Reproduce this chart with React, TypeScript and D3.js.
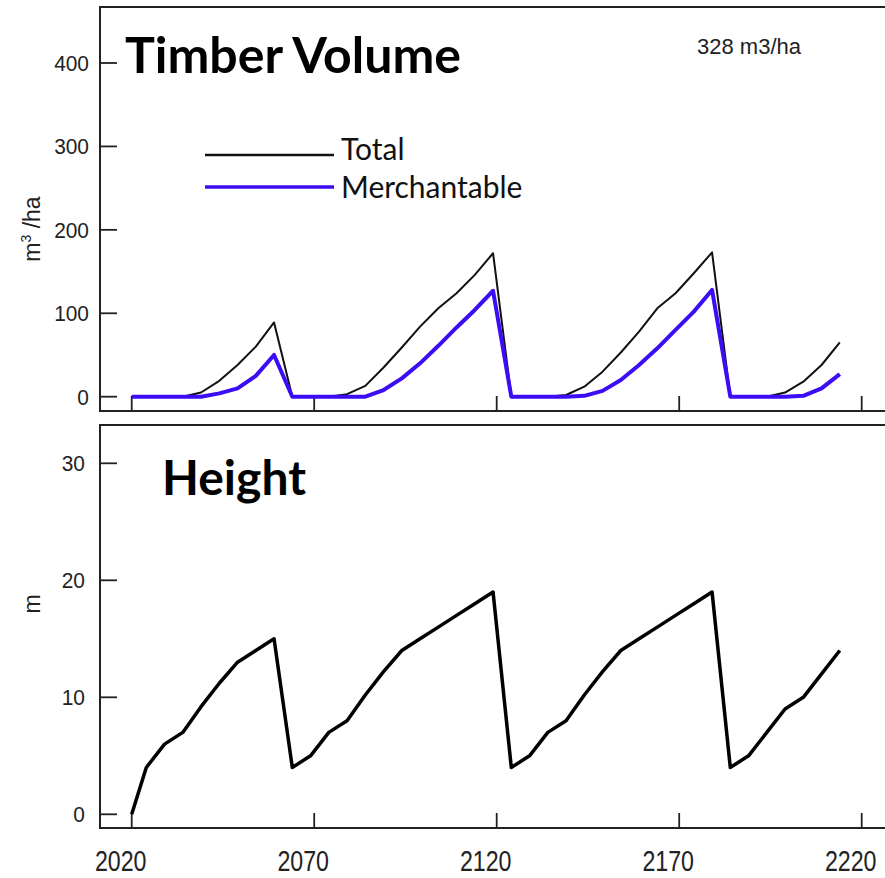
import React, { useEffect, useRef } from 'react';
import * as d3 from 'd3';

// simulation years (shared by both panels)
const years = [
  2020, 2024, 2029, 2034, 2039, 2044, 2049, 2054, 2059, 2064,
  2069, 2074, 2079, 2084, 2089, 2094, 2099, 2104, 2109, 2114,
  2119, 2124, 2129, 2134, 2139, 2144, 2149, 2154, 2159, 2164,
  2169, 2174, 2179, 2184, 2189, 2194, 2199, 2204, 2209, 2214,
];

// timber volume, m3/ha
const totalVolume = [
  0, 0, 0, 0, 5, 19, 38, 60, 89, 0,
  0, 0, 3, 13, 35, 59, 84, 106, 124, 146,
  172, 0, 0, 0, 2, 12, 30, 53, 78, 106,
  124, 148, 173, 0, 0, 0, 5, 18, 38, 65,
];
const merchVolume = [
  0, 0, 0, 0, 0, 4, 10, 25, 50, 0,
  0, 0, 0, 0, 8, 22, 40, 61, 83, 104,
  127, 0, 0, 0, 0, 1, 7, 20, 38, 58,
  80, 102, 128, 0, 0, 0, 0, 1, 10, 27,
];

// stand height, m
const height = [
  0, 4, 6, 7, 9.2, 11.2, 13, 14, 15, 4,
  5, 7, 8, 10.2, 12.2, 14, 15, 16, 17, 18,
  19, 4, 5, 7, 8, 10.2, 12.2, 14, 15, 16,
  17, 18, 19, 4, 5, 7, 9, 10, 12, 14,
];

const xTicks = [2020, 2070, 2120, 2170, 2220];
const volTicks = [0, 100, 200, 300, 400];
const heightTicks = [0, 10, 20, 30];

const W = 885;
const H = 878;

const App = () => {
  const ref = useRef<SVGSVGElement | null>(null);

  useEffect(() => {
    if (!ref.current) return;
    const svg = d3.select(ref.current);
    svg.selectAll('*').remove();

    const left = 100;
    const right = 886;
    const top1 = 7, bottom1 = 411;
    const top2 = 425, bottom2 = 828;
    const frame = '#222';
    const numFont = '"Liberation Sans", Arial, sans-serif';
    const titleFont = 'Lato, "Open Sans", sans-serif';

    const x = d3.scaleLinear().domain([2020, 2220]).range([131.7, 861.7]);
    const yVol = d3.scaleLinear().domain([0, 400]).range([396.7, 63]);
    const yH = d3.scaleLinear().domain([0, 30]).range([814.3, 463.3]);

    const drawPanel = (top: number, bottom: number, y: d3.ScaleLinear<number, number>, ticks: number[], labelRight: number) => {
      const g = svg.append('g');
      // frame
      g.append('path')
        .attr('d', `M${right},${top}H${left}V${bottom}H${right}`)
        .attr('fill', 'none')
        .attr('stroke', frame)
        .attr('stroke-width', 2);
      // y ticks (inward)
      ticks.forEach(t => {
        g.append('line')
          .attr('x1', left).attr('x2', left + 17)
          .attr('y1', y(t)).attr('y2', y(t))
          .attr('stroke', frame).attr('stroke-width', 1.8);
        g.append('text')
          .attr('transform', `translate(${labelRight},${y(t) + 8}) scale(0.95,1)`)
          .attr('text-anchor', 'end')
          .style('font-family', numFont)
          .style('font-size', '22px')
          .attr('fill', '#222')
          .text(t);
      });
      // x ticks (inward)
      xTicks.forEach(t => {
        g.append('line')
          .attr('x1', x(t)).attr('x2', x(t))
          .attr('y1', bottom).attr('y2', bottom - 15)
          .attr('stroke', frame).attr('stroke-width', 1.8);
      });
      return g;
    };

    // ---------- Timber volume panel ----------
    const g1 = drawPanel(top1, bottom1, yVol, volTicks, 89);

    const volLine = (vals: number[]) =>
      d3.line<number>().x((_, i) => x(years[i])).y(d => yVol(d))(vals);

    g1.append('path')
      .attr('d', volLine(totalVolume))
      .attr('fill', 'none')
      .attr('stroke', '#111')
      .attr('stroke-width', 2)
      .attr('stroke-linejoin', 'round');
    g1.append('path')
      .attr('d', volLine(merchVolume))
      .attr('fill', 'none')
      .attr('stroke', '#3c0cf5')
      .attr('stroke-width', 4)
      .attr('stroke-linejoin', 'round');

    g1.append('text')
      .attr('x', 125).attr('y', 73)
      .style('font-family', titleFont)
      .style('font-weight', 700)
      .style('font-size', '50px')
      .attr('fill', '#000')
      .text('Timber Volume');

    g1.append('text')
      .attr('x', 697).attr('y', 54)
      .style('font-family', numFont)
      .style('font-size', '22px')
      .attr('fill', '#222')
      .text('328 m3/ha');

    // legend
    const legend = [
      { label: 'Total', color: '#111', width: 2.5, y: 155, ty: 160 },
      { label: 'Merchantable', color: '#3c0cf5', width: 3.5, y: 187, ty: 198 },
    ];
    legend.forEach(l => {
      g1.append('line')
        .attr('x1', 205).attr('x2', 334)
        .attr('y1', l.y).attr('y2', l.y)
        .attr('stroke', l.color).attr('stroke-width', l.width);
      g1.append('text')
        .attr('x', 341).attr('y', l.ty)
        .style('font-family', titleFont)
        .style('font-size', '30px')
        .attr('fill', '#111')
        .text(l.label);
    });

    const yl1 = g1.append('text')
      .attr('transform', 'translate(40,229) rotate(-90)')
      .attr('text-anchor', 'middle')
      .style('font-family', numFont)
      .style('font-size', '23px')
      .attr('fill', '#222');
    yl1.append('tspan').text('m');
    yl1.append('tspan').attr('dy', -9).style('font-size', '14px').text('3');
    yl1.append('tspan').attr('dy', 9).text(' /ha');

    // ---------- Height panel ----------
    const g2 = drawPanel(top2, bottom2, yH, heightTicks, 85);

    g2.append('path')
      .attr('d', d3.line<number>().x((_, i) => x(years[i])).y(d => yH(d))(height))
      .attr('fill', 'none')
      .attr('stroke', '#000')
      .attr('stroke-width', 3.5)
      .attr('stroke-linejoin', 'round');

    g2.append('text')
      .attr('x', 162).attr('y', 495)
      .style('font-family', titleFont)
      .style('font-weight', 700)
      .style('font-size', '48px')
      .attr('fill', '#000')
      .text('Height');

    g2.append('text')
      .attr('transform', 'translate(40,604) rotate(-90)')
      .attr('text-anchor', 'middle')
      .style('font-family', numFont)
      .style('font-size', '23px')
      .attr('fill', '#222')
      .text('m');

    // x tick labels (sit slightly left of their ticks, as in the source figure)
    xTicks.forEach(t => {
      g2.append('text')
        .attr('transform', `translate(${x(t) - 11},871) scale(0.86,1.08)`)
        .attr('text-anchor', 'middle')
        .style('font-family', numFont)
        .style('font-size', '27px')
        .attr('fill', '#222')
        .text(t);
    });
  }, []);

  return (
    <svg
      ref={ref}
      width={W}
      height={H}
      style={{ position: 'absolute', left: 0, top: 0, background: '#fff', display: 'block' }}
    />
  );
};

export default App;
